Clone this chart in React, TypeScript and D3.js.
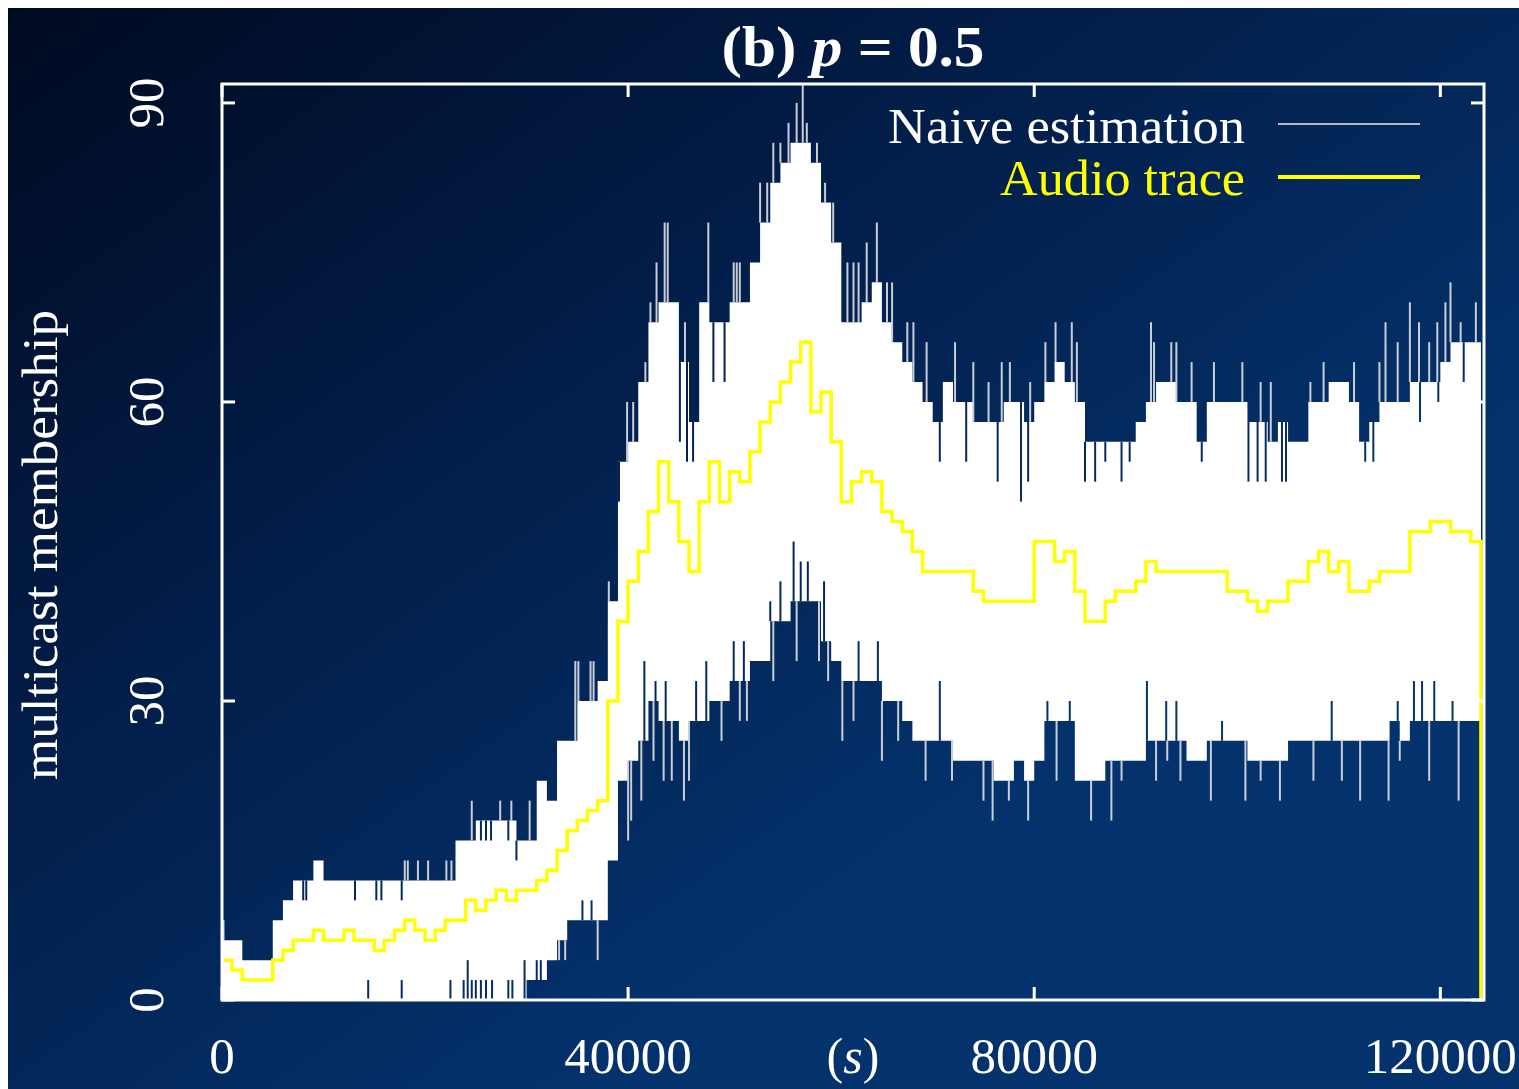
import React from 'react';
import * as d3 from 'd3';

// One sample every 1000 s; value i covers [i*1000, (i+1)*1000)
const SAMPLE_SECONDS = 1000;

// Naive estimation: upper and lower envelope of the rapidly alternating estimate
const naiveUpper = [
  6, 6, 4, 4, 4, 8, 10, 12, 12, 14,
  12, 12, 12, 12, 12, 12, 12, 12, 12, 12,
  12, 12, 12, 16, 16, 18, 18, 18, 18, 16,
  16, 22, 20, 26, 26, 30, 30, 32, 40, 54,
  56, 62, 68, 70, 70, 64, 58, 70, 68, 68,
  70, 70, 74, 78, 82, 84, 86, 86, 84, 80,
  76, 68, 68, 70, 72, 68, 66, 64, 62, 60,
  58, 62, 60, 60, 58, 58, 58, 60, 60, 58,
  60, 62, 64, 62, 60, 56, 56, 56, 56, 56,
  58, 60, 62, 62, 60, 60, 56, 60, 60, 60,
  60, 58, 58, 56, 58, 56, 56, 60, 60, 62,
  62, 60, 56, 58, 60, 60, 60, 62, 62, 62,
  64, 66, 66, 66,
];

const naiveLower = [
  0, 0, 0, 0, 0, 0, 0, 0, 0, 0,
  0, 0, 0, 0, 0, 0, 0, 0, 0, 0,
  0, 0, 0, 0, 0, 0, 0, 0, 0, 0,
  2, 2, 4, 6, 8, 8, 8, 8, 14, 22,
  24, 26, 30, 28, 28, 26, 28, 28, 30, 30,
  32, 32, 34, 34, 38, 38, 40, 40, 40, 36,
  34, 32, 32, 32, 32, 30, 30, 28, 26, 26,
  26, 26, 24, 24, 24, 24, 22, 22, 24, 22,
  24, 28, 28, 28, 22, 22, 22, 24, 24, 24,
  24, 26, 26, 26, 26, 24, 24, 26, 26, 26,
  26, 24, 24, 24, 24, 26, 26, 26, 26, 26,
  26, 26, 26, 26, 26, 28, 26, 28, 28, 28,
  28, 28, 28, 28,
];

// Isolated samples off the upper envelope: [time in 1000 s, value]
const naiveUpperSpikes: [number, number][] = [
  [0.15, 8],
  [6.5, 10], [8.0, 10], [8.3, 10], [13.1, 10], [15.2, 10], [15.7, 10], [17.7, 10],
  [18.0, 14], [18.3, 14], [19.3, 14], [20.3, 14], [22.1, 14], [22.6, 14],
  [24.6, 20], [25.5, 16], [26.0, 16], [26.5, 16], [27.4, 20], [28.2, 16], [28.5, 20], [29.0, 14], [30.3, 20],
  [34.8, 34], [35.1, 34], [36.3, 34], [36.6, 34], [38.1, 42], [39.1, 50], [39.9, 60], [40.5, 60],
  [41.7, 64], [42.2, 70], [42.8, 74], [43.6, 78], [43.9, 78], [45.1, 56], [45.6, 68], [45.8, 54],
  [46.4, 54], [47.9, 78], [48.4, 62], [49.5, 62], [50.4, 74], [50.7, 74], [51.0, 74], [53.0, 82],
  [53.7, 82], [54.3, 86], [55.0, 86], [55.8, 88], [56.6, 90], [57.2, 92], [57.6, 88], [58.6, 86],
  [59.4, 82], [60.2, 80], [61.6, 74], [62.2, 74],
  [62.7, 74], [63.5, 76], [64.5, 78], [65.5, 72], [66.0, 72], [67.5, 68], [68.1, 68], [69.4, 66],
  [70.7, 54], [72.2, 66], [73.3, 54], [74.0, 64], [75.5, 62], [76.4, 52], [76.8, 64], [77.6, 64],
  [78.7, 50], [79.4, 52], [79.6, 62], [81.1, 66], [82.1, 68], [83.7, 68], [84.2, 66], [85.0, 52],
  [86.0, 52], [87.0, 54], [88.6, 52], [89.4, 54], [91.5, 68], [91.8, 66], [93.5, 66],
  [94.0, 66], [95.5, 64], [96.5, 54], [97.7, 64], [100.5, 64], [101.1, 52], [102.0, 52], [102.3, 62],
  [102.8, 52], [103.3, 62], [104.4, 52], [104.8, 52], [107.2, 62], [108.5, 64], [111.5, 64],
  [112.6, 54], [113.4, 54], [114.0, 64], [114.6, 68], [115.8, 66], [117.0, 70], [117.9, 68],
  [118.0, 58], [118.9, 66], [119.7, 68], [119.8, 60], [120.5, 70], [121.0, 72], [122.0, 68],
  [122.3, 62], [123.5, 70],
];

// Isolated samples off the lower envelope: [time in 1000 s, value]
const naiveLowerSpikes: [number, number][] = [
  [14.4, 2], [17.7, 2], [22.5, 2], [23.8, 2], [24.2, 4], [24.6, 2], [25.0, 2], [25.5, 2],
  [26.0, 2], [26.6, 2], [28.2, 2], [28.6, 2], [29.8, 4], [31.0, 4], [31.4, 4],
  [33.2, 4], [33.8, 4], [35.5, 10], [36.4, 10], [37.0, 4],
  [40.0, 16], [40.3, 18], [41.3, 20], [41.6, 34], [42.5, 24], [42.7, 32], [43.5, 22], [43.7, 32],
  [44.3, 22], [45.5, 20], [46.0, 22], [46.7, 32], [47.7, 34], [49.2, 26], [50.4, 36], [51.0, 28],
  [51.4, 36], [51.7, 28], [54.0, 40], [54.3, 32], [55.0, 42], [56.3, 46], [56.6, 34], [57.0, 44],
  [57.7, 44], [58.8, 34], [59.3, 42], [59.7, 32], [61.1, 26], [62.2, 28],
  [62.7, 36], [64.6, 36], [65.0, 24], [66.6, 26], [69.3, 22], [70.7, 32], [71.9, 22], [75.0, 20],
  [75.9, 18], [77.5, 20], [79.4, 18], [81.3, 30], [82.2, 22], [83.5, 30], [85.6, 18], [87.6, 18],
  [88.6, 22], [91.1, 32], [92.0, 22], [93.0, 30], [93.1, 24],
  [94.0, 30], [94.4, 22], [97.4, 20], [98.5, 28], [100.8, 20], [102.3, 22], [104.2, 20],
  [107.5, 22], [109.3, 30], [110.3, 22], [112.1, 20], [114.9, 20], [115.8, 30], [116.0, 24],
  [117.4, 32], [118.2, 32], [118.9, 22], [119.4, 32], [121.2, 30], [121.8, 20],
];

// Audio trace membership
const audioTrace = [
  4, 3, 2, 2, 2, 4, 5, 6, 6, 7,
  6, 6, 7, 6, 6, 5, 6, 7, 8, 7,
  6, 7, 8, 8, 10, 9, 10, 11, 10, 11,
  11, 12, 13, 15, 17, 18, 19, 20, 30, 38,
  42, 45, 49, 54, 50, 46, 43, 50, 54, 50,
  53, 52, 55, 58, 60, 62, 64, 66, 59, 61,
  56, 50, 52, 53, 52, 49, 48, 47, 45, 43,
  43, 43, 43, 43, 41, 40, 40, 40, 40, 40,
  46, 46, 44, 45, 41, 38, 38, 40, 41, 41,
  42, 44, 43, 43, 43, 43, 43, 43, 43, 41,
  41, 40, 39, 40, 40, 42, 42, 44, 45, 43,
  44, 41, 41, 42, 43, 43, 43, 47, 47, 48,
  48, 47, 47, 46,
];

const xTicks = [0, 40000, 80000, 120000];
const yTicks = [0, 30, 60, 90];

const SERIF = '"Liberation Serif", "DejaVu Serif", "Times New Roman", serif';

export default function App() {
  const plot = { left: 222, right: 1484, top: 84, bottom: 1000 };
  const x = d3.scaleLinear().domain([0, 124300]).range([plot.left, plot.right]);
  const y = d3.scaleLinear().domain([0, 91.9]).range([plot.bottom, plot.top]);

  const n = naiveUpper.length;
  const endT = n * SAMPLE_SECONDS;

  type Band = { t: number; hi: number; lo: number };
  const band: Band[] = naiveUpper.map((u, i) => ({ t: i * SAMPLE_SECONDS, hi: u, lo: naiveLower[i] }));
  band.push({ t: endT, hi: naiveUpper[n - 1], lo: naiveLower[n - 1] });

  const bandArea = d3
    .area<Band>()
    .x((d) => x(d.t))
    .y0((d) => y(d.lo))
    .y1((d) => y(d.hi))
    .curve(d3.curveStepAfter);

  const audioPts: [number, number][] = audioTrace.map((v, i) => [i * SAMPLE_SECONDS, v]);
  audioPts.push([endT, audioTrace[audioTrace.length - 1]]);
  audioPts.push([endT, 0]);
  const audioLine = d3
    .line<[number, number]>()
    .x((d) => x(d[0]))
    .y((d) => y(d[1]))
    .curve(d3.curveStepAfter);

  const spikeLines = (spikes: [number, number][], env: number[], upper: boolean) =>
    spikes.map(([tk, v], i) => {
      const base = env[Math.min(env.length - 1, Math.floor(tk))];
      const outward = upper ? v > base : v < base;
      return (
        <line
          key={i}
          x1={x(tk * SAMPLE_SECONDS)}
          x2={x(tk * SAMPLE_SECONDS)}
          y1={y(base)}
          y2={y(v)}
          stroke={outward ? '#c9cdd6' : 'url(#bgGrad)'}
          strokeWidth={2}
        />
      );
    });

  const tickLen = 13;

  return (
    <svg
      width={1511}
      height={1081}
      style={{ position: 'absolute', left: 8, top: 8, display: 'block' }}
    >
      <defs>
        <linearGradient id="bgGrad" gradientUnits="userSpaceOnUse" x1={0} y1={0} x2={705} y2={1004}>
          <stop offset="0" stopColor="#000a20" />
          <stop offset="0.5" stopColor="#021d48" />
          <stop offset="1" stopColor="#04326c" />
        </linearGradient>
        <clipPath id="plotClip">
          <rect x={plot.left} y={plot.top} width={plot.right - plot.left} height={plot.bottom - plot.top} />
        </clipPath>
      </defs>
      <g transform="translate(-8,-8)">
        <rect x={0} y={0} width={1519} height={1089} fill="url(#bgGrad)" />

        <g clipPath="url(#plotClip)">
          <path d={bandArea(band) ?? ''} fill="#ffffff" />
          {spikeLines(naiveUpperSpikes, naiveUpper, true)}
          {spikeLines(naiveLowerSpikes, naiveLower, false)}
          <path d={audioLine(audioPts) ?? ''} fill="none" stroke="#ffff00" strokeWidth={3.5} />
        </g>

        {/* frame and inward ticks */}
        <rect
          x={plot.left}
          y={plot.top}
          width={plot.right - plot.left}
          height={plot.bottom - plot.top}
          fill="none"
          stroke="#ffffff"
          strokeWidth={3}
        />
        {xTicks.map((t) => (
          <g key={'xt' + t}>
            <line x1={x(t)} x2={x(t)} y1={plot.bottom} y2={plot.bottom - tickLen} stroke="#fff" strokeWidth={3} />
            <line x1={x(t)} x2={x(t)} y1={plot.top} y2={plot.top + tickLen} stroke="#fff" strokeWidth={3} />
          </g>
        ))}
        {yTicks.map((v) => (
          <g key={'yt' + v}>
            <line x1={plot.left} x2={plot.left + tickLen} y1={y(v)} y2={y(v)} stroke="#fff" strokeWidth={3} />
            <line x1={plot.right} x2={plot.right - tickLen} y1={y(v)} y2={y(v)} stroke="#fff" strokeWidth={3} />
          </g>
        ))}

        {/* tick labels */}
        {xTicks.map((t) => (
          <text
            key={'xl' + t}
            x={x(t)}
            y={1073}
            textAnchor="middle"
            fontFamily={SERIF}
            fontSize={51}
            fill="#ffffff"
          >
            {String(t)}
          </text>
        ))}
        {yTicks.map((v) => (
          <text
            key={'yl' + v}
            transform={`translate(163,${y(v)}) rotate(-90)`}
            textAnchor="middle"
            fontFamily={SERIF}
            fontSize={51}
            fill="#ffffff"
          >
            {String(v)}
          </text>
        ))}

        {/* axis titles */}
        <text x={853} y={1073} textAnchor="middle" fontFamily={SERIF} fontSize={50} fill="#ffffff">
          (<tspan fontStyle="italic">s</tspan>)
        </text>
        <text
          transform="translate(57,545) rotate(-90)"
          textAnchor="middle"
          fontFamily={SERIF}
          fontSize={50}
          fill="#ffffff"
          textLength={470}
          lengthAdjust="spacingAndGlyphs"
        >
          multicast membership
        </text>

        {/* title */}
        <text
          x={853}
          y={66}
          textAnchor="middle"
          fontFamily={SERIF}
          fontSize={56}
          fontWeight="bold"
          fill="#ffffff"
          textLength={263}
          lengthAdjust="spacingAndGlyphs"
        >
          (b) <tspan fontStyle="italic">p</tspan> = 0.5
        </text>

        {/* legend */}
        <text
          x={1245}
          y={143}
          textAnchor="end"
          fontFamily={SERIF}
          fontSize={50}
          fill="#ffffff"
          textLength={357}
          lengthAdjust="spacingAndGlyphs"
        >
          Naive estimation
        </text>
        <line x1={1278} x2={1420} y1={124} y2={124} stroke="#b4b8c4" strokeWidth={2} />
        <text
          x={1245}
          y={195}
          textAnchor="end"
          fontFamily={SERIF}
          fontSize={50}
          fill="#ffff00"
          textLength={245}
          lengthAdjust="spacingAndGlyphs"
        >
          Audio trace
        </text>
        <line x1={1278} x2={1420} y1={177} y2={177} stroke="#ffff00" strokeWidth={4} />
      </g>
    </svg>
  );
}
